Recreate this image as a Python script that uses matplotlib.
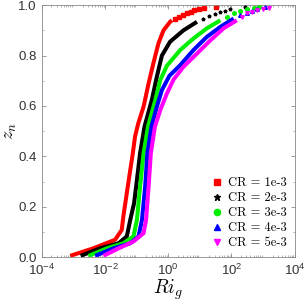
import matplotlib
matplotlib.use('Agg')
import matplotlib.pyplot as plt
import numpy as np

plt.rcParams['font.family'] = ['Liberation Sans', 'DejaVu Sans']
plt.rcParams['mathtext.fontset'] = 'custom'
plt.rcParams['mathtext.rm'] = 'Liberation Sans'
plt.rcParams['mathtext.it'] = 'Liberation Sans:italic'

# curves: log10(Ri_g) vs z_n
labels = ['CR = 1e-3', 'CR = 2e-3', 'CR = 3e-3', 'CR = 4e-3', 'CR = 5e-3']
colors = ['#ff0000', '#000000', '#00ee00', '#0000ff', '#ff00ff']
markers = ['s', '*', 'o', '^', 'v']

log_ri = [
    [-3.10, -2.37, -1.68, -1.47, -1.42, -1.31, -1.20, -1.12, -1.05, -0.95, -0.78, -0.62, -0.47, -0.31, -0.15, 0.06, 0.12],
    [-2.77, -2.15, -1.57, -1.31, -1.20, -1.08, -0.99, -0.89, -0.75, -0.52, -0.36, -0.20, 0.06, 0.48, 0.91],
    [-2.52, -1.94, -1.42, -1.10, -0.99, -0.89, -0.78, -0.64, -0.41, -0.25, -0.04, 0.38, 0.80, 1.22, 1.65],
    [-2.31, -1.73, -1.20, -0.94, -0.83, -0.73, -0.66, -0.53, -0.36, -0.20, 0.04, 0.38, 0.80, 1.22, 1.65, 2.07],
    [-2.05, -1.57, -1.10, -0.78, -0.70, -0.62, -0.55, -0.42, -0.25, -0.04, 0.17, 0.48, 0.91, 1.33, 1.75, 2.17],
]
zn = [
    [0.005, 0.035, 0.069, 0.108, 0.161, 0.254, 0.346, 0.412, 0.478, 0.53, 0.597, 0.69, 0.769, 0.848, 0.90, 0.934, 0.94],
    [0.005, 0.035, 0.055, 0.082, 0.148, 0.214, 0.306, 0.412, 0.518, 0.623, 0.716, 0.80, 0.855, 0.90, 0.934],
    [0.005, 0.035, 0.055, 0.082, 0.148, 0.28, 0.412, 0.518, 0.623, 0.703, 0.76, 0.822, 0.868, 0.908, 0.94],
    [0.005, 0.035, 0.055, 0.082, 0.148, 0.28, 0.412, 0.518, 0.597, 0.663, 0.72, 0.762, 0.822, 0.874, 0.914, 0.947],
    [0.005, 0.035, 0.062, 0.095, 0.148, 0.28, 0.412, 0.518, 0.584, 0.65, 0.705, 0.755, 0.808, 0.86, 0.908, 0.94],
]
# sparse markers in the upper tail
tail_log_ri = [
    [0.20, 0.33, 0.46, 0.59, 0.71, 0.83, 0.97, 1.12, 1.51],
    [1.10, 1.28, 1.47, 1.65, 1.80, 1.96, 2.44],
    [1.86, 2.07, 2.28, 2.49, 2.70, 2.86],
    [2.28, 2.49, 2.65, 2.81, 3.07],
    [2.33, 2.49, 2.65, 2.81, 3.00, 3.18],
]
tail_zn = [
    [0.947, 0.954, 0.960, 0.967, 0.973, 0.980, 0.984, 0.987, 0.993],
    [0.946, 0.956, 0.965, 0.973, 0.978, 0.983, 0.993],
    [0.955, 0.967, 0.976, 0.983, 0.988, 0.993],
    [0.960, 0.970, 0.977, 0.983, 0.993],
    [0.955, 0.967, 0.974, 0.980, 0.985, 0.990],
]

fig = plt.figure(figsize=(3.05, 3.05), dpi=100)
ax = fig.add_axes([0.137, 0.157, 0.829, 0.826])

for i in range(5):
    x = 10.0 ** np.array(log_ri[i])
    ax.plot(x, zn[i], '-', color=colors[i], lw=2.9, solid_capstyle='butt', zorder=2 + i)
    xt = 10.0 ** np.array(tail_log_ri[i])
    ax.plot(xt, tail_zn[i], markers[i], color=colors[i], ms=2.6, ls='none', zorder=2 + i)
    ax.plot([], [], markers[i], color=colors[i], ms=4.5, ls='none', label=labels[i])

ax.set_xscale('log')
ax.set_xlim(1e-4, 1e4)
ax.set_ylim(0, 1)
ax.set_xticks([1e-4, 1e-2, 1e0, 1e2, 1e4])
ax.set_xticklabels([r'$10^{-4}$', r'$10^{-2}$', r'$10^{0}$', r'$10^{2}$', r'$10^{4}$'])
ax.set_yticks([0, 0.2, 0.4, 0.6, 0.8, 1.0])
ax.set_yticklabels(['0.0', '0.2', '0.4', '0.6', '0.8', '1.0'])
ax.xaxis.set_minor_locator(matplotlib.ticker.LogLocator(base=10, subs=np.arange(2, 10), numticks=20))
ax.xaxis.set_minor_formatter(matplotlib.ticker.NullFormatter())
ax.yaxis.set_minor_locator(matplotlib.ticker.MultipleLocator(0.1))
ax.tick_params(which='both', direction='in', top=True, right=True, labelsize=9.5,
               labelcolor='#333333', color='#777777')
ax.tick_params(axis='x', which='major', pad=4)
ax.tick_params(which='major', length=3, width=0.5)
ax.tick_params(which='minor', length=1.5, width=0.4)
for s in ax.spines.values():
    s.set_linewidth(0.6)
    s.set_color('#888888')

xl = ax.set_xlabel(r'$Ri_g$', fontsize=14, labelpad=0)
xl.set_math_fontfamily('cm')
yl = ax.set_ylabel(r'$z_n$', fontsize=13)
yl.set_math_fontfamily('cm')
ax.yaxis.set_label_coords(-0.09, 0.5)

leg = ax.legend(loc='lower right', frameon=False, handletextpad=0.4,
                labelspacing=0.22, borderaxespad=0.25, handlelength=1.0,
                prop={'family': 'cmr10', 'size': 9})

fig.savefig('out.png', dpi=100)
